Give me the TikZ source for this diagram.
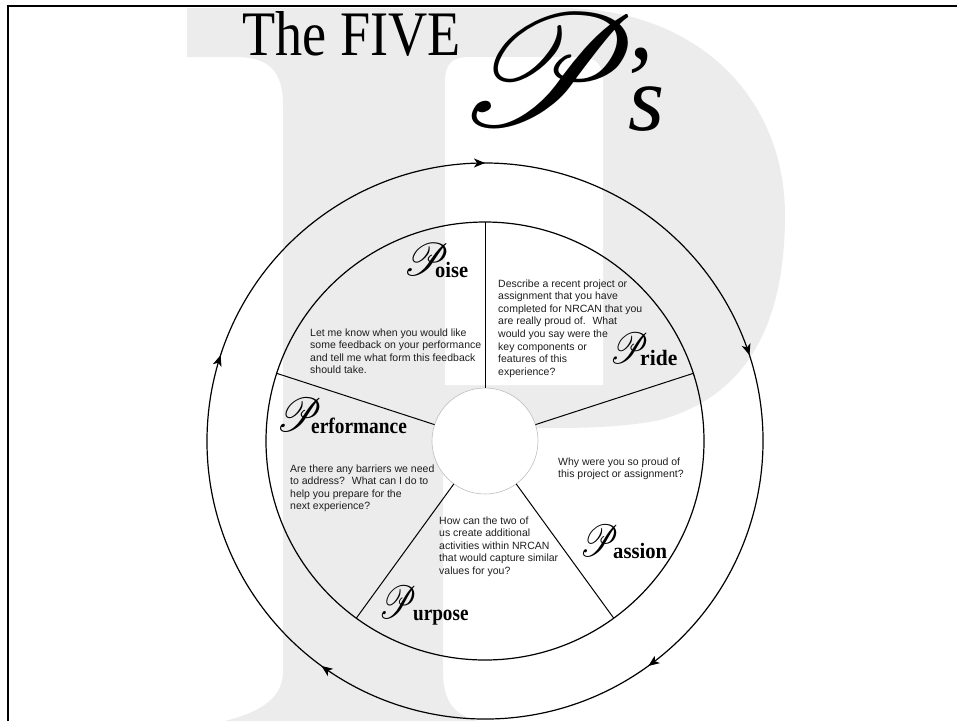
\documentclass[tikz,border=0pt]{standalone}
\usepackage{fontspec}
\setmainfont{Liberation Serif}
\setsansfont{Liberation Sans}
\usepackage{mathrsfs}
\usetikzlibrary{arrows.meta,decorations.markings}
\definecolor{pgray}{RGB}{236,236,236}
\definecolor{txt}{RGB}{30,30,30}
\definecolor{hubline}{RGB}{190,190,190}
\newcommand{\scrP}[2]{\resizebox{#1}{#2}{$\mathscr{P}$}}
\tikzset{tipc/.tip={Stealth[length=11pt,width=9pt,inset=3pt]}}
\begin{document}
\begin{tikzpicture}[x=1pt,y=-1pt,
  body/.style={font=\sffamily\fontsize{10.5}{12.6}\selectfont, align=left, anchor=north west, inner sep=0pt, text=txt},
  pword/.style={font=\fontsize{22}{22}\selectfont\bfseries, anchor=base west, inner sep=0pt},
  pcap/.style={anchor=south west, inner sep=0pt},
  ring/.style={line width=1.2pt},
  spoke/.style={line width=1pt},
  cw/.style={postaction={decorate}, decoration={markings,
     mark=at position 0.1 with {\arrow{tipc}},
     mark=at position 0.3 with {\arrow{tipc}},
     mark=at position 0.5 with {\arrow{tipc}},
     mark=at position 0.7 with {\arrow{tipc}},
     mark=at position 0.9 with {\arrow{tipc}}}}
]
\useasboundingbox (0,0) rectangle (957,721);
% background letter P
\fill[pgray] (187,8) -- (560,8) .. controls (700,8) and (785,100) .. (785,215)
  .. controls (785,320) and (750,395) .. (660,420)
  .. controls (620,428) and (580,428) .. (540,428) -- (443,428) -- (443,672)
  .. controls (443,705) and (458,716) .. (478,721) -- (225,721)
  .. controls (252,714) and (283,702) .. (283,672) -- (283,105)
  .. controls (283,70) and (268,57) .. (235,57) -- (187,57) -- cycle;
\fill[white] (445,385) -- (445,82) .. controls (445,64) and (452,57) .. (470,57)
  -- (578,57) .. controls (596,57) and (603,64) .. (603,82) -- (603,385) -- cycle;
% frame
\draw[line width=2pt] (7.5,721) -- (7.5,6) -- (957,6);
% wheel
\coordinate (c) at (485,441);
\draw[ring, cw] (c) ++(-126:278) arc[start angle=-126, end angle=234, radius=278];
\draw[ring] (c) circle[radius=219];
\draw[hubline, fill=white, line width=0.6pt] (c) circle[radius=53];
\foreach \a in {-90,-18,54,126,198}
  \draw[spoke] ([shift={(\a:53)}]c) -- ([shift={(\a:219)}]c);
% title
\node[anchor=base west, inner sep=0pt, font=\fontsize{63.4}{70}\selectfont] (title) at (242,55) {\scalebox{0.855}[1]{The FIVE}};
\node[pcap] (titleP) at (456,125.5) {\scrP{182pt}{111pt}};
\node[anchor=base west, inner sep=0pt, font=\fontsize{100}{100}\selectfont\itshape] (apos) at (617,114) {’};
\node[anchor=base west, inner sep=0pt, font=\fontsize{93}{93}\selectfont\itshape] (ess) at (628,130) {s};
% labels
\node[pcap] (poiseP) at (403,275.5) {\scrP{46pt}{32pt}};
\node[pword] (poise) at (435,277) {\scalebox{0.93}[1]{oise}};
\node[pcap] (prideP) at (609.5,363.5) {\scrP{39pt}{30.5pt}};
\node[pword] (pride) at (640,365) {\scalebox{0.98}[1]{ride}};
\node[pcap] (perfP) at (276,431.5) {\scrP{46pt}{33.3pt}};
\node[pword] (perf) at (311,433) {\scalebox{0.88}[1]{erformance}};
\node[pcap] (passP) at (579.5,556.5) {\scrP{39pt}{31.4pt}};
\node[pword] (pass) at (613,558) {\scalebox{0.94}[1]{assion}};
\node[pcap] (purpP) at (378.5,618.5) {\scrP{38pt}{32.4pt}};
\node[pword] (purp) at (413,620) {\scalebox{0.87}[1]{urpose}};
% questions
\node[body] (qpride) at (498,279.3) {Describe a recent project or\\assignment that you have\\completed for NRCAN that you\\are really proud of.~ What\\would you say were the\\key components or\\features of this\\experience?};
\node[body] (qpoise) at (310,328.3) {Let me know when you would like\\some feedback on your performance\\and tell me what form this feedback\\should take.};
\node[body] (qperf) at (290,464.3) {Are there any barriers we need\\to address?~ What can I do to\\help you prepare for the\\next experience?};
\node[body] (qpass) at (558,457.3) {Why were you so proud of\\this project or assignment?};
\node[body] (qpurp) at (439,516.3) {How can the two of\\us create additional\\activities within NRCAN\\that would capture similar\\values for you?};
\end{tikzpicture}
\end{document}
